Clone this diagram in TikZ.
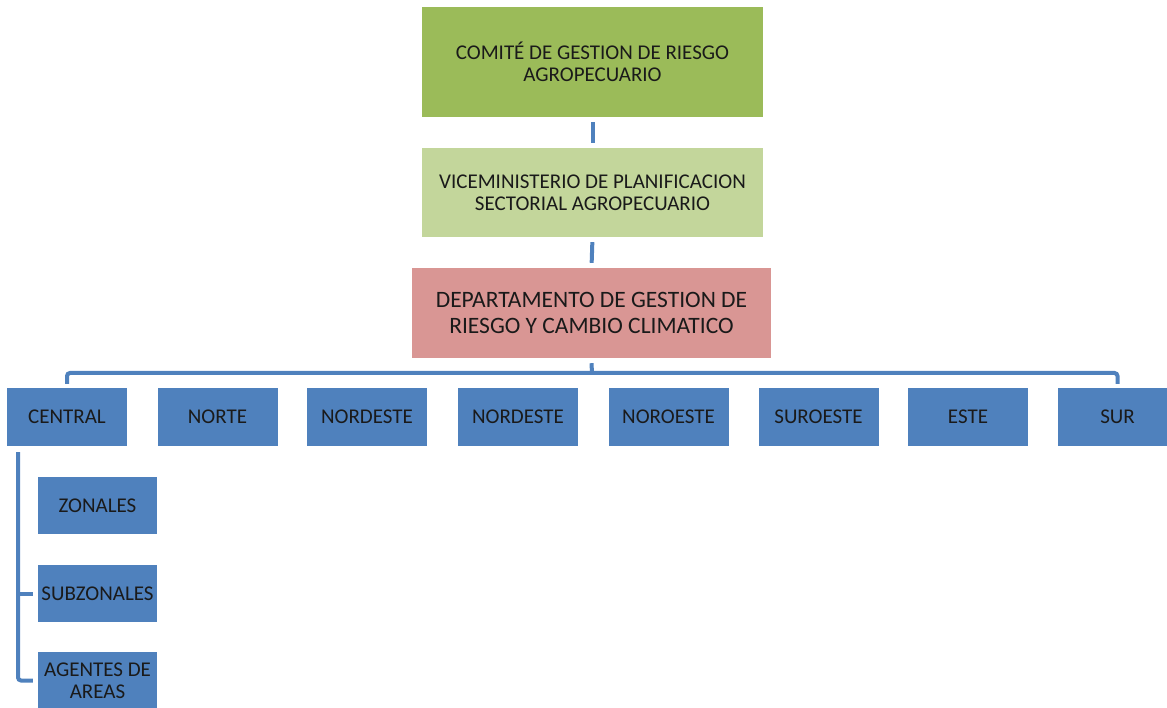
\documentclass[tikz,border=0pt]{standalone}
\usepackage{fontspec}
\setmainfont{Carlito}
\definecolor{gA}{HTML}{9BBB59}
\definecolor{gB}{HTML}{C3D69B}
\definecolor{pk}{HTML}{D99694}
\definecolor{bl}{HTML}{4F81BD}
\definecolor{tx}{HTML}{1A1A1A}
\begin{document}
\begin{tikzpicture}[x=1pt,y=-1pt,
  box/.style={inner sep=0pt, align=center, text=tx, font=\fontsize{21}{22}\selectfont},
  unitbox/.style={box, fill=bl, minimum width=120pt, minimum height=58pt},
  subbox/.style={box, fill=bl, minimum width=119pt, minimum height=57pt},
  conn/.style={draw=bl, line width=4pt}]
\useasboundingbox (0,0) rectangle (1167,708);
\clip (0,0) rectangle (1167,708);

\node[box, fill=gA, minimum width=341pt, minimum height=110pt] (comite) at (592.5,62) {COMITÉ DE GESTION DE RIESGO\\AGROPECUARIO};
\node[box, fill=gB, minimum width=341pt, minimum height=89pt] (vice) at (592.5,192.5) {VICEMINISTERIO DE PLANIFICACION\\SECTORIAL AGROPECUARIO};
\node[box, fill=pk, minimum width=359pt, minimum height=90pt, font=\fontsize{23.5}{26}\selectfont] (dep) at (591.5,313) {DEPARTAMENTO DE GESTION DE\\RIESGO Y CAMBIO CLIMATICO};

\node[unitbox] (central) at (67,417) {CENTRAL};
\node[unitbox] (norte) at (217.5,417) {NORTE};
\node[unitbox] (nordA) at (367,417) {NORDESTE};
\node[unitbox] (nordB) at (518,417) {NORDESTE};
\node[unitbox] (noro) at (668.5,417) {NOROESTE};
\node[unitbox] (suro) at (818.5,417) {SUROESTE};
\node[unitbox] (este) at (968,417) {ESTE};
\node[unitbox] (sur) at (1117.5,417) {SUR};

\node[subbox] (zon) at (97.5,505.5) {ZONALES};
\node[subbox] (subz) at (97.5,593.5) {SUBZONALES};
\node[subbox] (agen) at (97.5,680.5) {AGENTES DE\\AREAS};

\draw[conn, shorten <=5pt, shorten >=5pt] (comite.south) -- (vice.north);
\draw[conn, shorten <=5pt, shorten >=5pt] (vice.south) -- (dep.north);

\coordinate (bus) at (592,373);
\draw[conn] ([yshift=-5pt]dep.south) -- (bus);
\draw[conn, rounded corners=3pt] ([yshift=4pt]central.north) |- (bus) -| ([yshift=4pt]sur.north);

\coordinate (subtop) at ([xshift=-49pt, yshift=-6pt]central.south);
\draw[conn, rounded corners=3pt] (subtop) |- ([xshift=-5pt]agen.west);
\draw[conn] (subtop |- subz.west) -- ([xshift=-5pt]subz.west);
\end{tikzpicture}
\end{document}
